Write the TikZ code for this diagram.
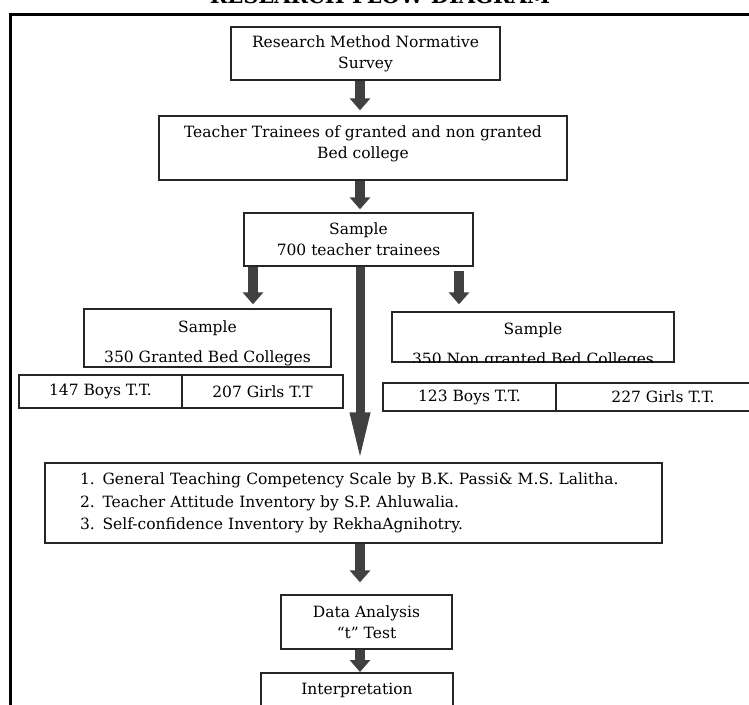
\documentclass[tikz,border=0pt]{standalone}
\usepackage{fontspec}
\setmainfont{DejaVu Serif}
\usetikzlibrary{arrows.meta}
\begin{document}
\begin{tikzpicture}[x=1pt,y=-1pt,
  txt/.style={font=\fontsize{15.5}{21}\selectfont, align=center, inner sep=0pt},
  box/.style={txt, draw=black!85, line width=1.3pt, rectangle},
  boxline/.style={draw=black!85, line width=1.3pt},
  blk/.style={draw=black!75, line width=10pt, -{Triangle[width=20pt,length=12pt]}},
  longblk/.style={draw=black!75, line width=9pt, -{Triangle[width=18pt,length=50pt]}},
  frame/.style={draw=black, line width=3pt}
]
\useasboundingbox (0,0) rectangle (749,704);
\clip (0,0) rectangle (749,704);

% title (cut off by the top edge)
\node[font=\bfseries\fontsize{21}{21}\selectfont, anchor=base, inner sep=0pt] (title) at (380,3) {RESEARCH FLOW DIAGRAM};

% outer frame
\draw[frame] (10,720) -- (10,14) -- (770,14);

\coordinate (axis) at (360,0);
\coordinate (la) at (253,0);
\coordinate (ra) at (459,0);

\node[box, minimum width=269, minimum height=53] (b1) at (365.5,53.5) {Research Method Normative\\Survey};

\node[box, minimum width=408, minimum height=64] (b2) at (363,148) {};
\node[txt] (b2t) at ([yshift=4pt]b2.center) {Teacher Trainees of granted and non granted\\Bed college};

\node[box, minimum width=229, minimum height=53] (b3) at (358.5,239.5) {Sample\\700 teacher trainees};

\node[box, minimum width=247, minimum height=58] (b4l) at (207.5,338) {};
\node[txt, font=\fontsize{15.5}{30}\selectfont] (b4lt) at ([yshift=-5pt]b4l.center) {Sample\\350 Granted Bed Colleges};

\node[box, minimum width=282, minimum height=50] (b4r) at (533,337) {};
\begin{scope}
  \clip (b4r.north west) rectangle (b4r.south east);
  \node[txt, font=\fontsize{15.5}{30}\selectfont] (b4rt) at ([yshift=-8pt]b4r.center) {Sample\\350 Non granted Bed Colleges};
\end{scope}

\node[box, minimum width=163, minimum height=33] (r1) at (100.5,391.5) {147 Boys T.T.};
\node[box, minimum width=161, minimum height=33] (r2) at (262.5,391.5) {207 Girls T.T};
\node[box, minimum width=173, minimum height=28] (r3) at (469.5,397) {123 Boys T.T.};
\node[box, minimum width=214, minimum height=28] (r4) at (663,397) {227 Girls T.T.};

\node[box, minimum height=80, text width=547, inner xsep=35pt, align=left, font=\fontsize{15.5}{22.5}\selectfont] (b5) at (353.5,503) {1. General Teaching Competency Scale by B.K. Passi\& M.S. Lalitha.\\2. Teacher Attitude Inventory by S.P. Ahluwalia.\\3. Self-confidence Inventory by RekhaAgnihotry.};

\node[box, minimum width=171, minimum height=54] (da) at (366.5,622) {Data Analysis\\“t” Test};

\node[txt] (ip) at (357,690) {Interpretation};
\draw[boxline] (261,720) |- (453,673) -- (453,720);
\coordinate (iptop) at (357,673);

% arrows
\draw[blk, shorten >=5pt] (b1.south -| axis) -- (b2.north -| axis);
\draw[blk, shorten >=3pt] (b2.south -| axis) -- (b3.north -| axis);
\draw[blk, shorten >=4pt] (b3.south -| la) -- (b4l.north -| la);
\draw[blk, shorten <=4pt, shorten >=7pt] (b3.south -| ra) -- (b4r.north -| ra);
\draw[longblk] (b3.south -| axis) -- (b5.north -| axis);
\draw[blk, shorten >=12pt] (b5.south -| axis) -- (da.north -| axis);
\draw[blk, shorten >=1pt] (da.south -| axis) -- (iptop -| axis);
\end{tikzpicture}
\end{document}
